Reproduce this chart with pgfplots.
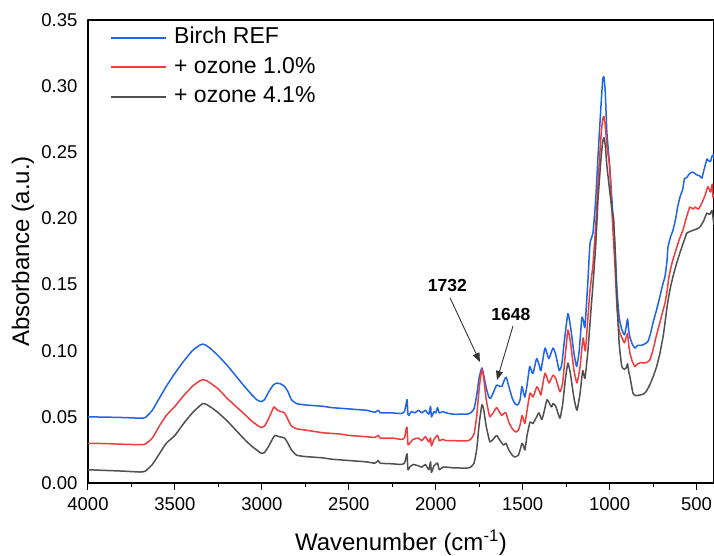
\documentclass[border=0pt]{standalone}
\usepackage{pgfplots}
\pgfplotsset{compat=1.18}
\usepackage{fontspec}
\setmainfont{Liberation Sans}
\usetikzlibrary{arrows.meta}
\definecolor{colBlue}{RGB}{30,100,230}
\definecolor{colRed}{RGB}{240,60,60}
\definecolor{colGray}{RGB}{80,80,80}
\begin{document}
\begin{tikzpicture}
\begin{axis}[
  scale only axis,
  width=626bp, height=463bp,
  x dir=reverse,
  xmin=400, xmax=4000,
  ymin=0, ymax=0.35,
  xtick={500,1000,1500,2000,2500,3000,3500,4000},
  minor x tick num=1,
  ytick={0,0.05,0.10,0.15,0.20,0.25,0.30,0.35},
  xtick pos=bottom,
  ytick pos=left,
  tick align=outside,
  major tick length=7bp,
  minor tick length=4bp,
  ytick style={draw=none},
  xtick style={line width=1bp, black},
  axis line style={line width=1.2bp, black},
  /pgf/number format/assume math mode=true,
  x tick label style={/pgf/number format/1000 sep={}, font=\fontsize{18.5bp}{22bp}\selectfont, yshift=-4bp},
  y tick label style={/pgf/number format/.cd, fixed, fixed zerofill, precision=2, /tikz/.cd, font=\fontsize{18.5bp}{22bp}\selectfont},
  xlabel={Wavenumber (cm\textsuperscript{-1})},
  ylabel={Absorbance (a.u.)},
  every axis x label/.style={at={(axis description cs:0.5,-0.129)}, anchor=center, font=\fontsize{24bp}{28bp}\selectfont},
  every axis y label/.style={at={(axis description cs:-0.1038,0.5)}, anchor=center, rotate=90, font=\fontsize{24bp}{28bp}\selectfont},
  legend cell align=left,
  legend style={draw=none, fill=none, at={(0,1)}, anchor=north west, xshift=22bp, yshift=-3bp, inner sep=0pt, row sep=0pt,
    font=\fontsize{23bp}{27bp}\selectfont,
    nodes={inner xsep=7bp, inner ysep=4.75bp, text height=16bp, text depth=4bp}},
  legend image code/.code={\draw[#1, line width=2bp] (0bp,0bp) -- (55bp,0bp);},
  line join=round,
]
\addplot[color=colBlue, line width=1.5bp, smooth, tension=0.3] coordinates {
(4000,0.050) (3900,0.0498) (3800,0.0495) (3700,0.049) (3670,0.0495) (3630,0.055) (3590,0.064) (3550,0.073) (3500,0.083) (3450,0.092) (3400,0.100) (3360,0.104) (3340,0.105) (3320,0.104) (3290,0.101) (3250,0.096) (3200,0.089) (3150,0.081) (3100,0.073) (3060,0.067) (3030,0.063) (3005,0.0615) (2985,0.063) (2960,0.069) (2935,0.074) (2915,0.0755) (2890,0.0748) (2870,0.073) (2850,0.069) (2830,0.063) (2800,0.060) (2750,0.059) (2700,0.0585) (2650,0.058) (2600,0.057) (2550,0.0565) (2500,0.056) (2450,0.0555) (2400,0.055) (2350,0.0535) (2330,0.055) (2320,0.053) (2300,0.053) (2250,0.053) (2200,0.0525) (2180,0.054) (2170,0.060) (2165,0.063) (2160,0.052) (2155,0.051) (2140,0.054) (2120,0.053) (2100,0.055) (2080,0.053) (2060,0.055) (2040,0.052) (2030,0.058) (2025,0.050) (2010,0.054) (2000,0.053) (1990,0.057) (1980,0.053) (1960,0.054) (1940,0.053) (1900,0.052) (1850,0.052) (1820,0.052) (1800,0.053) (1780,0.056) (1765,0.066) (1750,0.080) (1735,0.087) (1725,0.082) (1710,0.072) (1695,0.065) (1685,0.064) (1670,0.068) (1650,0.074) (1630,0.073) (1620,0.073) (1605,0.078) (1595,0.080) (1580,0.073) (1560,0.064) (1545,0.060) (1528,0.059) (1515,0.063) (1505,0.073) (1495,0.068) (1487,0.065) (1475,0.074) (1460,0.088) (1448,0.084) (1440,0.083) (1420,0.094) (1405,0.089) (1395,0.085) (1372,0.102) (1350,0.094) (1326,0.102) (1310,0.097) (1290,0.085) (1275,0.090) (1260,0.108) (1240,0.128) (1225,0.118) (1205,0.098) (1190,0.088) (1175,0.100) (1160,0.125) (1150,0.122) (1142,0.118) (1125,0.153) (1113,0.181) (1096,0.189) (1080,0.215) (1067,0.247) (1050,0.285) (1040,0.305) (1033,0.307) (1025,0.295) (1016,0.265) (1000,0.240) (987,0.214) (970,0.180) (958,0.146) (945,0.125) (930,0.116) (915,0.112) (905,0.118) (897,0.124) (890,0.115) (883,0.110) (870,0.105) (854,0.102) (840,0.104) (820,0.104) (800,0.105) (780,0.107) (765,0.113) (751,0.121) (730,0.131) (711,0.141) (695,0.150) (682,0.156) (670,0.168) (665,0.178) (650,0.186) (636,0.191) (620,0.200) (610,0.208) (596,0.216) (580,0.222) (570,0.230) (556,0.231) (540,0.234) (521,0.235) (500,0.233) (480,0.232) (470,0.2305) (455,0.238) (440,0.245) (435,0.244) (420,0.243) (412,0.247) (405,0.248) (400,0.245)
};
\addlegendentry{Birch REF}
\addplot[color=colRed, line width=1.5bp, smooth, tension=0.3] coordinates {
(4000,0.030) (3900,0.0298) (3800,0.0293) (3700,0.029) (3670,0.0295) (3630,0.034) (3590,0.043) (3550,0.051) (3500,0.058) (3450,0.066) (3400,0.073) (3360,0.077) (3340,0.078) (3320,0.0775) (3290,0.075) (3250,0.071) (3200,0.064) (3150,0.058) (3100,0.052) (3060,0.047) (3030,0.044) (3005,0.042) (2985,0.043) (2960,0.049) (2940,0.055) (2930,0.0575) (2910,0.055) (2890,0.054) (2870,0.053) (2850,0.048) (2830,0.043) (2800,0.041) (2750,0.040) (2700,0.039) (2650,0.038) (2600,0.0375) (2550,0.037) (2500,0.036) (2450,0.0355) (2400,0.035) (2350,0.0345) (2330,0.036) (2320,0.034) (2250,0.034) (2200,0.033) (2180,0.034) (2170,0.041) (2165,0.042) (2160,0.029) (2150,0.030) (2130,0.033) (2100,0.034) (2080,0.032) (2060,0.035) (2040,0.031) (2030,0.034) (2025,0.028) (2010,0.033) (1990,0.036) (1980,0.032) (1960,0.033) (1940,0.032) (1900,0.032) (1850,0.0318) (1820,0.0318) (1800,0.033) (1780,0.037) (1765,0.050) (1750,0.072) (1735,0.086) (1725,0.080) (1710,0.063) (1695,0.053) (1688,0.050) (1670,0.053) (1650,0.057) (1635,0.054) (1620,0.051) (1605,0.053) (1596,0.053) (1580,0.046) (1560,0.041) (1540,0.0385) (1525,0.040) (1515,0.044) (1504,0.051) (1495,0.048) (1487,0.045) (1475,0.055) (1458,0.068) (1441,0.065) (1418,0.0727) (1400,0.068) (1395,0.0666) (1372,0.083) (1349,0.0757) (1326,0.0815) (1310,0.079) (1286,0.069) (1270,0.076) (1255,0.097) (1240,0.1157) (1225,0.106) (1205,0.085) (1188,0.0757) (1170,0.088) (1153,0.1096) (1140,0.100) (1125,0.125) (1115,0.143) (1105,0.155) (1096,0.165) (1080,0.195) (1067,0.227) (1050,0.262) (1040,0.275) (1033,0.277) (1025,0.270) (1016,0.255) (1000,0.239) (987,0.205) (970,0.165) (958,0.133) (945,0.115) (930,0.110) (915,0.106) (905,0.110) (897,0.113) (890,0.104) (883,0.098) (870,0.092) (854,0.088) (840,0.090) (820,0.091) (808,0.0907) (790,0.091) (769,0.093) (750,0.101) (734,0.110) (710,0.122) (682,0.136) (670,0.145) (659,0.156) (640,0.167) (619,0.176) (600,0.184) (579,0.191) (560,0.200) (539,0.2086) (520,0.207) (509,0.2086) (490,0.207) (470,0.2116) (450,0.218) (435,0.224) (420,0.220) (410,0.226) (406,0.216) (400,0.218)
};
\addlegendentry{+ ozone 1.0\%}
\addplot[color=colGray, line width=1.5bp, smooth, tension=0.3] coordinates {
(4000,0.010) (3900,0.0095) (3800,0.009) (3700,0.0083) (3670,0.009) (3630,0.014) (3590,0.022) (3550,0.030) (3500,0.036) (3450,0.045) (3400,0.053) (3360,0.058) (3340,0.060) (3320,0.0595) (3290,0.057) (3250,0.053) (3200,0.047) (3150,0.040) (3100,0.033) (3060,0.028) (3030,0.025) (3005,0.0225) (2985,0.023) (2960,0.028) (2940,0.033) (2925,0.036) (2900,0.035) (2870,0.034) (2850,0.030) (2830,0.025) (2800,0.021) (2750,0.020) (2700,0.0195) (2650,0.019) (2600,0.018) (2550,0.0175) (2500,0.017) (2450,0.0165) (2400,0.016) (2350,0.015) (2330,0.017) (2320,0.015) (2250,0.0145) (2200,0.014) (2180,0.015) (2170,0.020) (2165,0.022) (2160,0.010) (2150,0.012) (2130,0.014) (2100,0.013) (2080,0.012) (2060,0.014) (2040,0.010) (2030,0.016) (2025,0.008) (2010,0.013) (1990,0.015) (1980,0.010) (1960,0.012) (1940,0.012) (1900,0.0115) (1850,0.0113) (1820,0.0113) (1800,0.012) (1780,0.015) (1765,0.025) (1750,0.045) (1735,0.059) (1725,0.056) (1710,0.043) (1695,0.034) (1688,0.031) (1670,0.033) (1650,0.036) (1630,0.032) (1610,0.0287) (1596,0.030) (1580,0.025) (1560,0.021) (1545,0.0197) (1525,0.021) (1515,0.025) (1504,0.030) (1495,0.028) (1487,0.025) (1475,0.036) (1458,0.046) (1441,0.045) (1420,0.050) (1407,0.053) (1390,0.048) (1375,0.055) (1360,0.063) (1335,0.0575) (1326,0.060) (1310,0.058) (1286,0.049) (1270,0.060) (1255,0.078) (1240,0.0907) (1225,0.082) (1205,0.064) (1188,0.055) (1170,0.068) (1155,0.085) (1142,0.079) (1125,0.100) (1118,0.112) (1105,0.135) (1096,0.150) (1080,0.180) (1067,0.214) (1050,0.245) (1040,0.258) (1033,0.261) (1025,0.255) (1016,0.240) (1000,0.221) (985,0.205) (978,0.201) (970,0.180) (958,0.138) (945,0.105) (930,0.088) (915,0.086) (905,0.087) (901,0.089) (897,0.090) (890,0.084) (883,0.080) (866,0.068) (850,0.066) (826,0.0665) (810,0.067) (791,0.069) (770,0.074) (751,0.080) (730,0.088) (711,0.098) (690,0.113) (670,0.133) (655,0.145) (636,0.156) (615,0.166) (596,0.174) (575,0.182) (556,0.189) (540,0.190) (521,0.191) (500,0.192) (481,0.1935) (460,0.198) (441,0.204) (425,0.203) (412,0.206) (405,0.200) (400,0.195)
};
\addlegendentry{+ ozone 4.1\%}
\draw[-{Triangle[length=9bp,width=7bp]}, line width=0.9bp, black!80] (axis cs:1918,0.140) -- (axis cs:1746,0.0915);
\draw[-{Triangle[length=9bp,width=7bp]}, line width=0.9bp, black!80] (axis cs:1556,0.1187) -- (axis cs:1648,0.0779);
\node[font=\fontsize{17.5bp}{20bp}\selectfont\bfseries] at (axis cs:1933,0.1493) {1732};
\node[font=\fontsize{17.5bp}{20bp}\selectfont\bfseries] at (axis cs:1568,0.1277) {1648};
\end{axis}
\pgfresetboundingbox
\path[use as bounding box] ([shift={(-88bp,-73bp)}]current axis.south west) rectangle ([shift={(0bp,20bp)}]current axis.north east);
\end{tikzpicture}
\end{document}
